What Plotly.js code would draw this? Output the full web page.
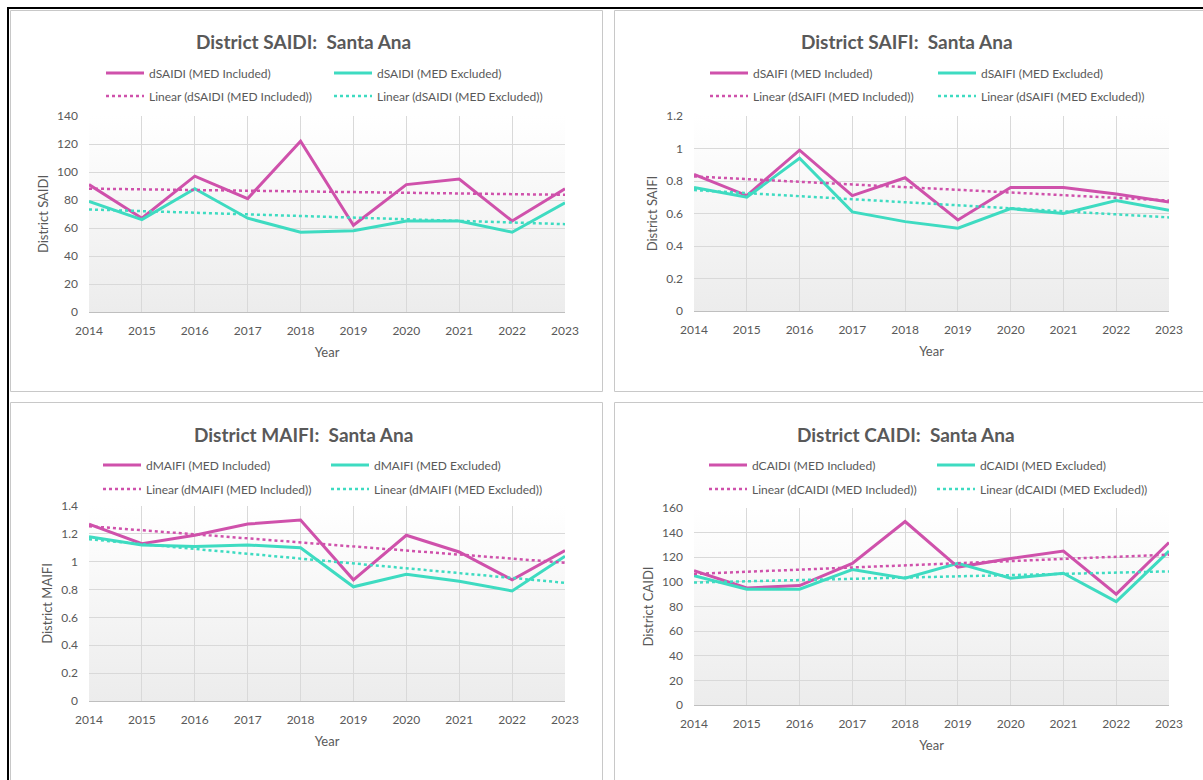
<!DOCTYPE html>
<html>
<head>
<meta charset="utf-8">
<script src="https://cdn.plot.ly/plotly-3.0.1.min.js"></script>
<style>
  html, body { margin: 0; padding: 0; background: #ffffff; }
  #chart { width: 1203px; height: 780px; }
</style>
</head>
<body>
<div id="chart"></div>
<script>
// ---------- data ----------
const years = [2014, 2015, 2016, 2017, 2018, 2019, 2020, 2021, 2022, 2023];
const yearLabels = ["2014", "2015", "2016", "2017", "2018", "2019", "2020", "2021", "2022", "2023"];

const saidiIncluded = [91, 67, 97, 81, 122, 62, 91, 95, 65, 88];
const saidiExcluded = [79, 66, 88, 67, 57, 58, 65, 65, 57, 78];

const saifiIncluded = [0.84, 0.71, 0.99, 0.71, 0.82, 0.56, 0.76, 0.76, 0.72, 0.67];
const saifiExcluded = [0.76, 0.70, 0.94, 0.61, 0.55, 0.51, 0.63, 0.60, 0.68, 0.62];

const maifiIncluded = [1.27, 1.13, 1.19, 1.27, 1.30, 0.87, 1.19, 1.07, 0.87, 1.08];
const maifiExcluded = [1.18, 1.12, 1.11, 1.12, 1.10, 0.82, 0.91, 0.86, 0.79, 1.04];

const caidiIncluded = [109, 95, 97, 115, 149, 112, 119, 125, 90, 132];
const caidiExcluded = [105, 94, 94, 110, 103, 115, 103, 107, 84, 125];

const panelNames = ["SAIDI", "SAIFI", "MAIFI", "CAIDI"];
const panelTitles = ["District SAIDI:\u00a0 Santa Ana", "District SAIFI:\u00a0 Santa Ana",
                     "District MAIFI:\u00a0 Santa Ana", "District CAIDI:\u00a0 Santa Ana"];
const yTitles = ["District SAIDI", "District SAIFI", "District MAIFI", "District CAIDI"];
const yMax = [140, 1.2, 1.4, 160];
const yStep = [20, 0.2, 0.2, 20];
const seriesIncluded = [saidiIncluded, saifiIncluded, maifiIncluded, caidiIncluded];
const seriesExcluded = [saidiExcluded, saifiExcluded, maifiExcluded, caidiExcluded];

// ---------- styling ----------
const W = 1203, H = 780;
const FONT = "Lato, 'Open Sans', sans-serif";
const TXT = "#595959";
const PINK = "#CF51AB";
const TEAL = "#3EDBC1";
const GRID = "#d9d9d9";

// pixel layout of each panel
const panels = [
  { l: 89,  r: 565,  t: 116, b: 312, titleX: 303, titleY: 41,  leg1: 73,  leg2: 96,  legX: 107, box: [10, 602, 10, 391] },
  { l: 694, r: 1169, t: 116, b: 311, titleX: 907, titleY: 41,  leg1: 73,  leg2: 96,  legX: 711, box: [614, 1210, 10, 391] },
  { l: 89,  r: 565,  t: 506, b: 701, titleX: 303, titleY: 434, leg1: 465, leg2: 489, legX: 104, box: [10, 602, 402, 790] },
  { l: 694, r: 1169, t: 508, b: 705, titleX: 906, titleY: 434, leg1: 465, leg2: 489, legX: 710, box: [614, 1210, 402, 790] }
];
const px = v => v / W;
const py = v => 1 - v / H;

function linearTrend(xs, ys) {
  const n = xs.length;
  let sx = 0, sy = 0, sxx = 0, sxy = 0;
  for (let i = 0; i < n; i++) { sx += xs[i]; sy += ys[i]; sxx += xs[i] * xs[i]; sxy += xs[i] * ys[i]; }
  const m = (n * sxy - sx * sy) / (n * sxx - sx * sx);
  const b = (sy - m * sx) / n;
  return xs.map(x => m * x + b);
}

const gradSvg = "<svg xmlns='http://www.w3.org/2000/svg' width='100' height='100' viewBox='0 0 100 100' preserveAspectRatio='none'>" +
  "<defs><linearGradient id='g' x1='0' y1='0' x2='0' y2='1'>" +
  "<stop offset='0' stop-color='#ffffff'/><stop offset='0.22' stop-color='#fbfbfb'/><stop offset='1' stop-color='#ececec'/>" +
  "</linearGradient></defs><rect x='0' y='0' width='100' height='100' fill='url(#g)'/></svg>";
const gradUri = "data:image/svg+xml;base64," + btoa(gradSvg);

const traces = [];
const layout = {
  width: W, height: H,
  margin: { l: 0, r: 0, t: 0, b: 0 },
  paper_bgcolor: "#ffffff",
  plot_bgcolor: "rgba(0,0,0,0)",
  font: { family: FONT, size: 12, color: TXT },
  showlegend: true,
  hovermode: false,
  annotations: [],
  shapes: [],
  images: []
};

panels.forEach((p, i) => {
  const k = i + 1;
  const xa = k === 1 ? "x" : "x" + k;
  const ya = k === 1 ? "y" : "y" + k;
  const legA = "legend" + (k === 1 ? "" : (2 * i + 1));
  const legB = "legend" + (2 * i + 2);
  const name = panelNames[i];

  traces.push({
    type: "scatter", mode: "lines", x: years, y: seriesIncluded[i],
    xaxis: xa, yaxis: ya, legend: legA,
    name: "d" + name + " (MED Included)",
    line: { color: PINK, width: 3 }
  });
  traces.push({
    type: "scatter", mode: "lines", x: years, y: seriesExcluded[i],
    xaxis: xa, yaxis: ya, legend: legA,
    name: "d" + name + " (MED Excluded)",
    line: { color: TEAL, width: 3 }
  });
  traces.push({
    type: "scatter", mode: "lines", x: years, y: linearTrend(years, seriesIncluded[i]),
    xaxis: xa, yaxis: ya, legend: legB,
    name: "Linear (d" + name + " (MED Included))",
    line: { color: PINK, width: 2.5, dash: "dot" }
  });
  traces.push({
    type: "scatter", mode: "lines", x: years, y: linearTrend(years, seriesExcluded[i]),
    xaxis: xa, yaxis: ya, legend: legB,
    name: "Linear (d" + name + " (MED Excluded))",
    line: { color: TEAL, width: 2.5, dash: "dot" }
  });

  const xKey = k === 1 ? "xaxis" : "xaxis" + k;
  const yKey = k === 1 ? "yaxis" : "yaxis" + k;
  layout[xKey] = {
    domain: [px(p.l), px(p.r)], anchor: ya,
    range: [years[0], years[years.length - 1]],
    tickmode: "array", tickvals: years, ticktext: yearLabels,
    showgrid: true, gridcolor: GRID, gridwidth: 1,
    showline: true, linecolor: "#bfbfbf", linewidth: 1,
    zeroline: false, ticks: "", ticklabelstandoff: 8,
    tickfont: { family: FONT, size: 12, color: TXT },
    title: { text: "Year", font: { family: FONT, size: 13, color: TXT }, standoff: 10 },
    fixedrange: true
  };
  const ytv = [];
  for (let v = 0; v <= yMax[i] + 1e-9; v += yStep[i]) ytv.push(+v.toFixed(2));
  layout[yKey] = {
    domain: [py(p.b), py(p.t)], anchor: xa,
    range: [0, yMax[i]],
    tickmode: "array", tickvals: ytv, ticktext: ytv.map(v => String(v)),
    showgrid: true, gridcolor: GRID, gridwidth: 1,
    showline: false, zeroline: false, ticks: "", ticklabelstandoff: 10,
    tickfont: { family: FONT, size: 12, color: TXT },
    title: { text: yTitles[i], font: { family: FONT, size: 13, color: TXT }, standoff: 5 },
    fixedrange: true
  };

  const legCommon = {
    orientation: "h", xanchor: "left", yanchor: "middle",
    bgcolor: "rgba(0,0,0,0)", borderwidth: 0,
    font: { family: FONT, size: 12, color: TXT },
    entrywidth: 175, entrywidthmode: "pixels", itemwidth: 38,
    traceorder: "normal", itemclick: false, itemdoubleclick: false
  };
  layout[legA] = Object.assign({}, legCommon, { x: px(p.legX - 6), y: py(p.leg1) });
  layout[legB] = Object.assign({}, legCommon, { x: px(p.legX - 6), y: py(p.leg2) });

  layout.annotations.push({
    xref: "paper", yref: "paper", x: px(p.titleX), y: py(p.titleY),
    xanchor: "center", yanchor: "middle", showarrow: false,
    text: "<b>" + panelTitles[i] + "</b>",
    font: { family: FONT, size: 19, color: TXT }
  });

  layout.images.push({
    source: gradUri, xref: xa, yref: ya,
    x: years[0], y: yMax[i], sizex: years[years.length - 1] - years[0], sizey: yMax[i],
    xanchor: "left", yanchor: "top", sizing: "stretch", layer: "below"
  });

  layout.shapes.push({
    type: "rect", xref: "paper", yref: "paper",
    x0: px(p.box[0] + 0.5), x1: px(p.box[1] + 0.5), y0: py(p.box[3] + 0.5), y1: py(p.box[2] + 0.5),
    line: { color: "#c8c8c8", width: 1 }, fillcolor: "rgba(0,0,0,0)", layer: "below"
  });
});

// outer dark frame (top and left edges of the captured area)
layout.shapes.push({
  type: "line", xref: "paper", yref: "paper",
  x0: px(7), x1: px(1210), y0: py(8), y1: py(8),
  line: { color: "#000000", width: 2 }
});
layout.shapes.push({
  type: "line", xref: "paper", yref: "paper",
  x0: px(8), x1: px(8), y0: py(7), y1: py(790),
  line: { color: "#000000", width: 2 }
});

Plotly.newPlot("chart", traces, layout, { displayModeBar: false, staticPlot: true });
</script>
</body>
</html>
